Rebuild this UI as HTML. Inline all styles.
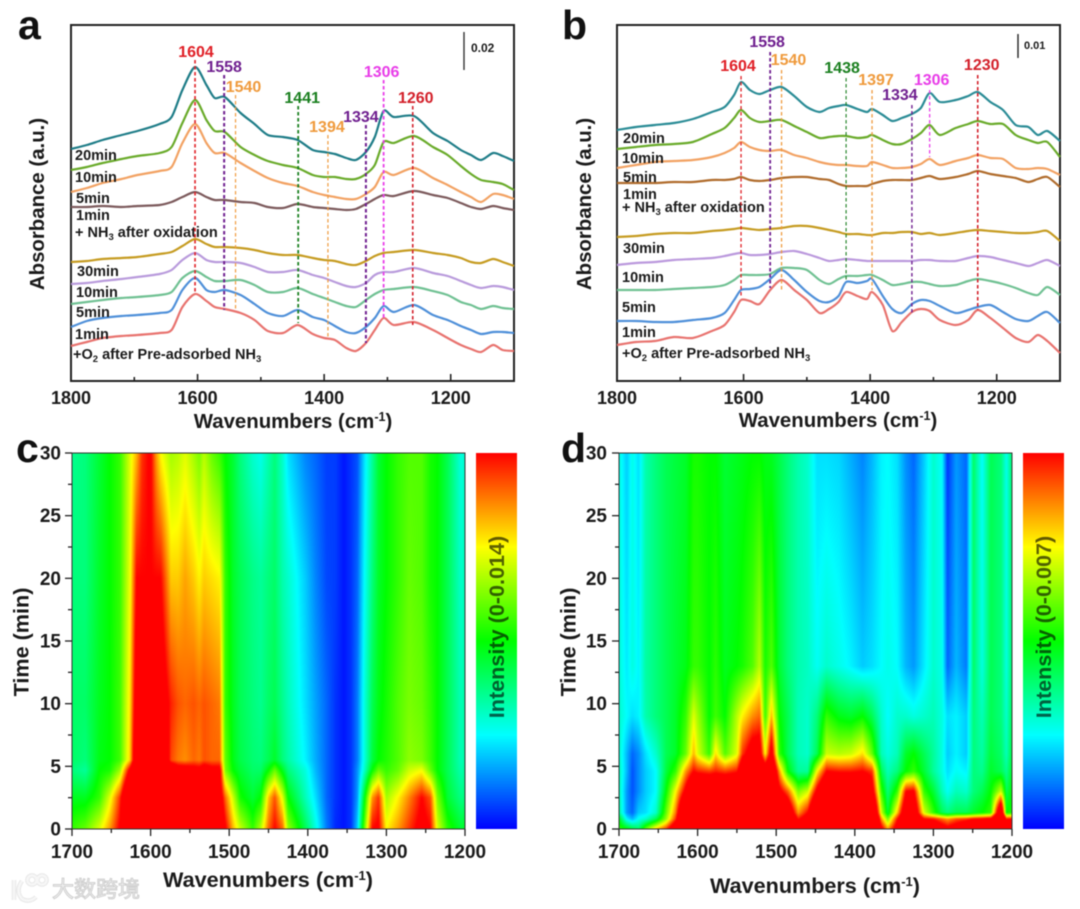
<!DOCTYPE html>
<html lang="en"><head><meta charset="utf-8"><title>FTIR spectra and time-resolved heatmaps</title>
<style>
html,body{margin:0;padding:0;background:#fff;width:1080px;height:909px;overflow:hidden}
#stage{position:relative;width:1080px;height:909px;filter:blur(0.45px)}
canvas{position:absolute;display:block}
svg{position:absolute;left:0;top:0}
text{font-family:"Liberation Sans","Noto Sans CJK SC",sans-serif;font-weight:bold;fill:#1a1a1a}
.tl{font-size:14.5px}
.tick{font-size:18px}
.tick-h{font-size:19px}
.title{font-size:20.4px}
.title-h{font-size:21.6px}
.pl{font-size:41px;fill:#111}
</style></head><body>
<div id="stage">
<canvas id="heat-c" width="393" height="376" style="left:72px;top:453px"></canvas>
<canvas id="heat-d" width="393" height="376" style="left:619px;top:453px"></canvas>
<svg id="fig" width="1080" height="909" viewBox="0 0 1080 909">
<defs>
<linearGradient id="jet" x1="0" y1="1" x2="0" y2="0">
<stop offset="0" stop-color="#0000ff"/><stop offset=".25" stop-color="#00ffff"/><stop offset=".5" stop-color="#00ff00"/><stop offset=".75" stop-color="#ffff00"/><stop offset="1" stop-color="#ff0000"/>
</linearGradient>
</defs>
<text class="pl" x="18" y="39">a</text>
<text class="pl" x="562" y="39">b</text>
<text class="pl" x="16" y="462">c</text>
<text class="pl" x="561" y="462">d</text>

<rect x="71" y="25" width="443" height="356" fill="none" stroke="#222" stroke-width="2"/>
<rect x="617" y="25" width="443" height="356" fill="none" stroke="#222" stroke-width="2"/>
<g id="a-series"></g>
<g id="b-series"></g>

<line x1="464" y1="32" x2="464" y2="70" stroke="#333" stroke-width="1.4"/>
<text x="471" y="52" style="font-size:12px">0.02</text>
<line x1="1018" y1="34" x2="1018" y2="58" stroke="#222" stroke-width="1.4"/>
<text x="1024" y="49" style="font-size:11px">0.01</text>

<g>
<text class="tl" x="75" y="160">20min</text>
<text class="tl" x="75" y="182">10min</text>
<text class="tl" x="76" y="203">5min</text>
<text class="tl" x="76" y="220">1min</text>
<text class="tl" x="75" y="237">+ NH<tspan dy="3" style="font-size:9.5px">3</tspan><tspan dy="-3"> after oxidation</tspan></text>
<text class="tl" x="77" y="276">30min</text>
<text class="tl" x="76" y="297">10min</text>
<text class="tl" x="76" y="317">5min</text>
<text class="tl" x="75" y="339">1min</text>
<text class="tl" x="73" y="359">+O<tspan dy="3" style="font-size:9.5px">2</tspan><tspan dy="-3"> after Pre-adsorbed NH</tspan><tspan dy="3" style="font-size:9.5px">3</tspan></text>
</g>
<g>
<text class="tl" x="623" y="143">20min</text>
<text class="tl" x="622" y="163">10min</text>
<text class="tl" x="623" y="182">5min</text>
<text class="tl" x="623" y="199">1min</text>
<text class="tl" x="622" y="212">+ NH<tspan dy="3" style="font-size:9.5px">3</tspan><tspan dy="-3"> after oxidation</tspan></text>
<text class="tl" x="623" y="253">30min</text>
<text class="tl" x="622" y="282">10min</text>
<text class="tl" x="622" y="312">5min</text>
<text class="tl" x="622" y="337">1min</text>
<text class="tl" x="622" y="358">+O<tspan dy="3" style="font-size:9.5px">2</tspan><tspan dy="-3"> after Pre-adsorbed NH</tspan><tspan dy="3" style="font-size:9.5px">3</tspan></text>
</g>

<text class="title" x="293" y="428" text-anchor="middle">Wavenumbers (cm<tspan dy="-7" style="font-size:12.5px">-1</tspan><tspan dy="7">)</tspan></text>
<text class="title" x="838" y="427" text-anchor="middle">Wavenumbers (cm<tspan dy="-7" style="font-size:12.5px">-1</tspan><tspan dy="7">)</tspan></text>
<text class="title" text-anchor="middle" transform="translate(44,204) rotate(-90)">Absorbance (a.u.)</text>
<text class="title" text-anchor="middle" transform="translate(591,204) rotate(-90)">Absorbance (a.u.)</text>

<rect x="72" y="453" width="393" height="376" fill="none" stroke="#333" stroke-width="1"/>
<rect x="619" y="453" width="393" height="376" fill="none" stroke="#333" stroke-width="1"/>
<rect x="476" y="453" width="41" height="376" fill="url(#jet)"/>
<rect x="1023" y="453" width="41" height="376" fill="url(#jet)"/>
<text text-anchor="middle" transform="translate(504,627) rotate(-90)" style="font-size:21.6px;fill:#000;fill-opacity:.62">Intensity (0-0.014)</text>
<text text-anchor="middle" transform="translate(1051,627) rotate(-90)" style="font-size:21.6px;fill:#000;fill-opacity:.62">Intensity (0-0.007)</text>
<text class="title-h" x="268" y="887" text-anchor="middle">Wavenumbers (cm<tspan dy="-7" style="font-size:13px">-1</tspan><tspan dy="7">)</tspan></text>
<text class="title-h" x="815" y="893" text-anchor="middle">Wavenumbers (cm<tspan dy="-7" style="font-size:13px">-1</tspan><tspan dy="7">)</tspan></text>
<text class="title-h" text-anchor="middle" transform="translate(28.5,642) rotate(-90)">Time (min)</text>
<text class="title-h" text-anchor="middle" transform="translate(575.5,642) rotate(-90)">Time (min)</text>

<g>
<g fill="none" stroke="#d2d2d2" stroke-width="4.4" opacity=".55">
<path d="M14 880 v20 M22 881 q-7 10 0 18 q8 4 14 -2"/>
<circle cx="32" cy="880" r="4.6"/><circle cx="42" cy="880" r="4.6"/>
</g>
<g fill="none" stroke="#f6f6f6" stroke-width="2.6">
<path d="M14 880 v20 M22 881 q-7 10 0 18 q8 4 14 -2"/>
<circle cx="32" cy="880" r="4.6"/><circle cx="42" cy="880" r="4.6"/>
</g>
<text x="52" y="897" style="font-size:22px;fill:#f6f6f6;stroke:#cfcfcf;stroke-width:1px;font-weight:normal">大数跨境</text>
</g>
<g id="axes"></g>
</svg>
</div>
<script>
/* ---------- Panel a: spectra (a.u., common offset scale) ---------- */
const aWavenumbers=[1800,1775,1750,1720,1695,1660,1641,1624,1604,1586,1573,1557,1532,1510,1489,1465,1442,1418,1400,1383,1365,1350,1334,1320,1306,1290,1258,1228,1205,1184,1168,1152,1133,1118,1100];
const aNh320=[232,236,241,246,250,257,264,291,314,296,283,284,268,257,246,244,241,231,229,227,223,221,229,244,270,264,265,248,240,231,226,221,228,225,220];
const aNh310=[211,214,218,222,225,228,234,258,281,261,250,249,234,226,220,216,213,206,204,204,202,202,207,216,239,238,245,234,226,215,207,201,199,197,191];
const aNh35=[189,193,198,202,206,210,214,238,257,238,228,228,218,210,203,198,195,189,186,184,182,182,187,194,209,206,213,203,196,189,184,179,187,186,182];
const aNh31=[174,174,175,174,175,176,179,184,189,184,181,181,179,178,174,173,177,174,173,172,171,172,177,182,186,185,190,186,183,178,174,172,175,173,171];
const aO230=[119,120,122,123,124,127,129,135,142,137,134,134,133,131,128,126,126,123,121,120,117,116,120,125,128,129,131,128,126,123,119,118,122,119,115];
const aO210=[97,98,100,102,104,107,111,121,128,121,119,119,118,114,109,109,111,106,103,99,95,94,98,106,109,109,113,108,105,100,96,93,95,94,91];
const aO25=[77,79,81,83,84,86,89,103,110,104,100,100,101,96,89,89,93,87,83,79,75,74,81,87,91,92,94,90,86,79,76,72,75,73,72];
const aO21=[54,60,63,65,66,68,71,91,103,91,89,91,86,77,68,65,71,64,61,55,49,48,54,63,75,69,76,66,61,55,51,47,49,49,48];
const aO2Base=[35,39,43,45,46,48,51,74,87,80,74,72,68,61,50,48,56,47,43,41,33,30,38,51,63,56,59,51,43,36,32,29,36,31,30];
const aPeaks=[1604,1558,1540,1441,1394,1334,1306,1260];
const aPeakTops=[321,306,286,275,246,256,301,275];
const aPeakBottoms=[88,71,71,58,43,38,61,56];

/* ---------- Panel b: spectra ---------- */
const bWavenumbers=[1800,1770,1740,1710,1680,1650,1630,1615,1604,1590,1575,1558,1540,1520,1500,1480,1465,1450,1438,1420,1405,1397,1380,1365,1350,1334,1320,1306,1290,1265,1245,1230,1210,1190,1170,1150,1135,1120,1100];
const bNh320=[251,254,256,258,262,269,274,286,299,291,287,291,294,285,274,269,273,275,276,272,269,272,266,260,263,267,273,288,279,281,285,289,279,271,256,254,246,250,240];
const bNh310=[232,234,236,237,239,247,253,263,271,263,259,260,261,255,249,243,244,245,245,243,244,246,241,237,237,242,248,256,246,253,257,260,257,257,246,241,238,239,224];
const bNh35=[213,216,219,220,221,224,228,233,239,234,231,230,231,226,223,219,217,216,216,215,215,219,216,213,213,214,217,222,216,220,223,226,223,222,213,212,213,212,206];
const bNh31=[198,198,198,199,199,201,201,202,204,201,200,201,203,204,204,202,201,197,195,195,195,197,200,201,201,201,203,205,202,204,207,210,207,205,203,199,202,204,194];
const bO230=[144,145,147,148,148,150,151,152,153,152,151,152,153,155,155,153,151,149,147,147,146,146,148,148,149,149,147,148,146,148,150,151,150,149,148,148,149,150,140];
const bO210=[116,118,119,121,122,123,125,127,128,126,126,127,129,130,127,123,120,121,122,121,120,120,120,120,120,120,121,121,120,120,123,125,124,121,118,115,118,121,115];
const bO25=[91,91,91,92,93,94,96,101,106,106,106,107,113,113,111,101,97,102,105,105,106,106,101,96,97,99,99,97,95,96,100,102,100,97,93,88,86,94,86];
const bO21=[60,60,59,59,61,63,68,81,91,92,94,102,111,101,89,80,79,85,99,98,100,102,85,72,68,77,81,80,75,68,71,74,76,69,62,60,65,69,58];
const bO2Base=[36,39,40,44,43,50,56,69,81,80,77,91,101,91,81,68,72,79,89,85,82,89,76,50,59,69,72,70,61,56,61,71,63,53,43,39,46,40,28];
const bPeaks=[1604,1558,1540,1438,1397,1334,1306,1230];
const bPeakTops=[305,329,311,303,291,276,291,306];
const bPeakBottoms=[83,93,91,99,91,68,224,71];

const spectraXTicks=[1800,1700,1600,1500,1400,1300,1200,1100];
const spectraXTickLabels=['1800','','1600','','1400','','1200',''];

/* ---------- Panel c: heatmap, normalised intensity (values above 1 saturate red) ---------- */
const cWavenumbers=[1700,1683,1665,1652,1639,1626,1618,1611,1600,1593,1587,1574,1565,1556,1545,1538,1532,1522,1512,1505,1495,1486,1470,1460,1450,1442,1432,1425,1403,1390,1376,1365,1354,1345,1337,1328,1318,1310,1300,1285,1271,1255,1244,1235,1222,1205,1200];
const cTimes=[0,2.5,4.7,5.5,10,20,30];
const cT0=[.55,.6,.72,.85,1.02,1.5,1.5,1.5,1.5,1.5,1.5,1.5,1.5,1.5,1.5,1.5,1.5,1.5,1.2,1.02,.82,.7,.55,.68,.9,1,.9,.65,.42,.28,.12,.04,.02,.05,.2,.6,1,1.02,.76,.85,.95,1.05,1.0,.72,.54,.45,.47];
const cT2=[.47,.47,.55,.72,.95,1.4,1.5,1.5,1.5,1.5,1.5,1.5,1.5,1.5,1.5,1.5,1.5,1.3,1.1,.9,.7,.52,.45,.5,.8,.92,.72,.5,.32,.22,.1,.05,.02,.05,.15,.48,.85,.95,.66,.76,.87,1,.92,.62,.45,.37,.38];
const cT4=[.38,.35,.5,.52,.65,1.05,1.4,1.5,1.5,1.5,1.5,1.2,1.1,1.1,1.06,1.05,1.1,1.05,1.05,.62,.5,.45,.4,.4,.5,.6,.47,.38,.28,.18,.1,.05,.02,.05,.14,.3,.5,.6,.55,.6,.7,.74,.6,.5,.42,.33,.35];
const cT5=[.4,.38,.48,.5,.56,.8,1.2,1.3,1.3,1.3,1.3,.93,.88,.86,.9,.88,.92,.9,.9,.6,.48,.43,.39,.38,.42,.46,.38,.34,.24,.17,.1,.05,.02,.05,.12,.28,.44,.5,.53,.58,.64,.62,.56,.5,.42,.32,.34];
const cT10=[.4,.4,.47,.5,.56,.78,1.1,1.2,1.2,1.2,1.1,.97,.92,.9,.92,.9,.92,.9,.88,.55,.47,.42,.38,.36,.4,.42,.36,.32,.22,.16,.1,.05,.02,.05,.12,.28,.42,.48,.52,.58,.62,.6,.55,.5,.42,.32,.34];
const cT20=[.38,.38,.46,.5,.55,.74,1,1,1,1,1,.8,.8,.84,.8,.76,.8,.78,.76,.55,.46,.42,.37,.35,.38,.4,.33,.3,.2,.13,.07,.06,.02,.05,.1,.25,.38,.46,.5,.55,.6,.58,.52,.5,.42,.3,.32];
const cT30=[.36,.38,.45,.5,.55,.72,.82,.95,1.02,.85,.75,.66,.68,.72,.66,.62,.68,.6,.55,.5,.45,.38,.3,.27,.33,.38,.3,.22,.13,.1,.06,.06,.02,.05,.08,.22,.35,.45,.5,.55,.58,.58,.52,.5,.42,.28,.3];

/* ---------- Panel d: heatmap ---------- */
const dWavenumbers=[1700,1690,1683,1675,1666,1653,1640,1628,1615,1605,1600,1585,1577,1565,1550,1543,1530,1521,1514,1506,1496,1485,1472,1460,1448,1436,1420,1405,1390,1378,1366,1358,1346,1335,1325,1312,1300,1289,1282,1271,1258,1249,1238,1227,1214,1207,1200];
const dTimes=[0,0.8,1.3,3,4.6,6,9,13,30];
const dT0=[.55,.5,.45,.4,.6,.8,.95,1.2,1.5,1.5,1.5,1.5,1.5,1.5,1.5,1.5,1.5,1.5,1.5,1.5,1.5,1.5,1.5,1.5,1.5,1.5,1.5,1.5,1.5,1.5,1.05,.85,1.1,1.5,1.5,1.3,1.2,1.1,1.05,1.1,1.2,1.3,1.4,1.4,1.5,1.3,1.3];
const dT1=[.48,.24,.18,.26,.3,.42,.65,.95,1.5,1.5,1.5,1.5,1.5,1.5,1.5,1.5,1.5,1.5,1.5,1.5,1.5,1.3,.98,1.1,1.5,1.5,1.5,1.5,1.5,1.5,.85,.62,.98,1.3,1.3,1.0,.98,.9,.85,.92,.95,1,1.02,1.05,1.5,.98,1];
const dT13b=[.35,.15,.1,.2,.22,.3,.6,.88,1.4,1.5,1.5,1.5,1.5,1.5,1.5,1.5,1.5,1.5,1.5,1.5,1.4,1.2,.85,1.0,1.4,1.5,1.5,1.5,1.5,1.4,.7,.45,.8,1.2,1.2,.72,.55,.42,.38,.42,.42,.46,.5,.55,1.3,.5,.52];
const dT3=[.32,.15,.08,.14,.2,.25,.5,.75,1.05,1.3,1.3,1.3,1.3,1.3,1.3,1.3,1.4,1.4,1.4,1.4,1.05,.9,.62,.7,1.05,1.3,1.3,1.3,1.3,1.1,.55,.38,.55,1.0,1.02,.55,.45,.32,.26,.32,.3,.38,.42,.5,.7,.42,.5];
const dT4=[.32,.18,.08,.14,.2,.25,.44,.55,.85,1.0,.97,.94,.97,.94,.98,1.2,1.3,1.3,1.2,1.3,.85,.5,.35,.35,.75,1.0,.98,.98,1.0,.95,.42,.32,.38,.5,.55,.45,.35,.28,.22,.26,.24,.38,.36,.46,.42,.36,.46];
const dT6=[.3,.18,.1,.14,.22,.3,.42,.46,.6,.82,.72,.55,.78,.58,.72,.95,1.1,1.1,.75,1.1,.55,.42,.32,.3,.42,.7,.68,.7,.78,.6,.32,.28,.32,.46,.5,.42,.35,.28,.2,.24,.2,.38,.34,.44,.4,.32,.44];
const dT9=[.3,.25,.22,.24,.33,.38,.42,.46,.55,.72,.66,.5,.56,.5,.68,.76,.86,.9,.55,.82,.5,.42,.32,.3,.38,.55,.48,.46,.5,.42,.3,.25,.3,.3,.28,.3,.32,.28,.22,.24,.2,.38,.32,.42,.38,.3,.42];
const dT13=[.29,.23,.28,.24,.34,.38,.42,.45,.48,.55,.55,.5,.54,.47,.5,.52,.58,.68,.52,.58,.45,.38,.33,.31,.26,.3,.27,.24,.2,.22,.25,.27,.25,.18,.15,.23,.3,.27,.1,.18,.12,.4,.28,.42,.38,.28,.4];
const dT30=[.28,.2,.27,.22,.33,.38,.42,.44,.46,.52,.52,.5,.5,.45,.47,.48,.5,.5,.48,.47,.43,.38,.33,.3,.22,.22,.21,.17,.13,.18,.24,.25,.22,.14,.1,.2,.3,.25,.05,.15,.1,.4,.25,.42,.38,.27,.4];

const heatXTicks=[1700,1650,1600,1550,1500,1450,1400,1350,1300,1250,1200];
const heatXTickLabels=['1700','','1600','','1500','','1400','','1300','','1200'];
const heatYTicks=[0,2.5,5,7.5,10,12.5,15,17.5,20,22.5,25,27.5,30];
const heatYTickLabels=['0','','5','','10','','15','','20','','25','','30'];

const colorStopValues=[0,.25,.5,.75,1];
const colorStopRGB=[[0,0,255],[0,255,255],[0,255,0],[255,255,0],[255,0,0]];

const NS='http://www.w3.org/2000/svg';
const fig=document.getElementById('fig');
const axesG=document.getElementById('axes');
function mk(tag,attrs,parent){const e=document.createElementNS(NS,tag);for(const k in attrs)e.setAttribute(k,attrs[k]);(parent||fig).appendChild(e);return e;}
function linear(d0,d1,r0,r1){return v=>r0+(v-d0)/(d1-d0)*(r1-r0);}

/* Smooth path through the points, Catmull-Rom style */
function smoothPath(xs,ys){
  let d='M'+xs[0].toFixed(1)+' '+ys[0].toFixed(1);
  const t=0.14;
  for(let i=0;i<xs.length-1;i++){
    const p0=Math.max(i-1,0),p2=i+1,p3=Math.min(i+2,xs.length-1);
    const c1x=xs[i]+(xs[p2]-xs[p0])*t,c1y=ys[i]+(ys[p2]-ys[p0])*t;
    const c2x=xs[p2]-(xs[p3]-xs[i])*t,c2y=ys[p2]-(ys[p3]-ys[i])*t;
    d+='C'+c1x.toFixed(1)+' '+c1y.toFixed(1)+' '+c2x.toFixed(1)+' '+c2y.toFixed(1)+' '+xs[p2].toFixed(1)+' '+ys[p2].toFixed(1);
  }
  return d;
}

function drawSpectra(panel,wn,seriesList,colors,x,y){
  const group=document.getElementById(panel+'-series');
  const px=wn.map(x);
  seriesList.forEach((vals,i)=>{
    const line=mk('path',{d:smoothPath(px,vals.map(y)),fill:'none',stroke:colors[i],'stroke-width':2.2,'stroke-linejoin':'round'},group);
    
    
  });
}

function drawPeaks(panel,peaks,tops,bottoms,colors,widths,dx,labelLift,x,y){
  peaks.forEach((p,i)=>{
    const ln=mk('line',{x1:x(p),x2:x(p),y1:y(tops[i]),y2:y(bottoms[i]),stroke:colors[i],'stroke-width':widths[i],'stroke-dasharray':'3.5 2.5'});
    
    
    const tx=mk('text',{x:x(p)+dx[i],y:y(tops[i])-labelLift,'text-anchor':'middle',style:'font-size:16px;fill:'+colors[i]});
    tx.textContent=String(p);
    
    
  });
}

function spectraXAxis(panel,x,bottom,labelY){
  spectraXTicks.forEach((t,i)=>{
    const major=spectraXTickLabels[i]!=='';
    const tk=mk('line',{x1:x(t),x2:x(t),y1:bottom,y2:bottom-(major?7:4),stroke:'#222','stroke-width':1.6},axesG);
    
    
    if(major){
      const lb=mk('text',{x:x(t),y:labelY,'text-anchor':'middle',class:'tick'},axesG);
      lb.textContent=spectraXTickLabels[i];
      
      
    }
  });
}

function heatAxes(panel,x,y,bottom,left,labelRight){
  heatXTicks.forEach((t,i)=>{
    const major=heatXTickLabels[i]!=='';
    const tk=mk('line',{x1:x(t),x2:x(t),y1:bottom,y2:bottom+(major?7:4),stroke:'#222','stroke-width':1.3},axesG);
    
    
    if(major){
      const lb=mk('text',{x:x(t),y:bottom+29,'text-anchor':'middle',class:'tick-h'},axesG);
      lb.textContent=heatXTickLabels[i];
      
      
    }
  });
  heatYTicks.forEach((t,i)=>{
    const major=heatYTickLabels[i]!=='';
    const tk=mk('line',{x1:left,x2:left-(major?7:4),y1:y(t),y2:y(t),stroke:'#222','stroke-width':1.3},axesG);
    
    
    if(major){
      const lb=mk('text',{x:labelRight,y:y(t)+6.5,'text-anchor':'end',class:'tick-h'},axesG);
      lb.textContent=heatYTickLabels[i];
      
      
    }
  });
}

function colorFor(v){
  const c=Math.max(0,Math.min(1,v));
  let i=0;
  while(i<colorStopValues.length-2&&c>colorStopValues[i+1])i++;
  const f=(c-colorStopValues[i])/(colorStopValues[i+1]-colorStopValues[i]);
  return colorStopRGB[i].map((s,k)=>s+(colorStopRGB[i+1][k]-s)*f);
}
function locate(arr,v){ /* arr may ascend or descend */
  const asc=arr[1]>arr[0];
  let i=0;
  while(i<arr.length-2&&(asc?v>arr[i+1]:v<arr[i+1]))i++;
  return [i,(v-arr[i])/(arr[i+1]-arr[i])];
}
function drawHeat(id,wn,times,rows,xInv,yInv){
  const cv=document.getElementById(id),ctx=cv.getContext('2d');
  const W=cv.width,H=cv.height,img=ctx.createImageData(W,H);
  for(let py=0;py<H;py++){
    const [ti,tf]=locate(times,yInv(py+.5));
    for(let px=0;px<W;px++){
      const [wi,wf]=locate(wn,xInv(px+.5));
      const a=rows[ti][wi]*(1-wf)+rows[ti][wi+1]*wf;
      const b=rows[ti+1][wi]*(1-wf)+rows[ti+1][wi+1]*wf;
      const c=colorFor(a*(1-tf)+b*tf);
      const o=(py*W+px)*4;
      img.data[o]=c[0];img.data[o+1]=c[1];img.data[o+2]=c[2];img.data[o+3]=255;
    }
  }
  ctx.putImageData(img,0,0);
}

/* Panel a */
const xA=linear(1800,1100,71,514),yA=linear(0,356,381,25);
drawSpectra('a',aWavenumbers,[aNh320,aNh310,aNh35,aNh31,aO230,aO210,aO25,aO21,aO2Base],['#1f7d88','#6aab2b','#f2a263','#7c5a5c','#c69c22','#b99bdc','#70c193','#4f90d9','#e8736f'],xA,yA);
drawPeaks('a',aPeaks,aPeakTops,aPeakBottoms,['#e01f26','#6f1f8f','#ef9a3c','#1a7f1f','#ef9a3c','#6f1f8f','#e83ce8','#d3202a'],[1.6,2,1.2,1.8,1.2,2,1.8,1.6],[1,0,8,4,-1,-5,-2,3],3,xA,yA);
spectraXAxis('a',xA,381,404);

/* Panel b */
const xB=linear(1800,1100,617,1060),yB=linear(0,356,381,25);
drawSpectra('b',bWavenumbers,[bNh320,bNh310,bNh35,bNh31,bO230,bO210,bO25,bO21,bO2Base],['#2b8c96','#6aab2b','#f2a263','#b06c2c','#c69c22','#bb99dd','#70c193','#4f90d9','#e8736f'],xB,yB);
drawPeaks('b',bPeaks,bPeakTops,bPeakBottoms,['#e01f26','#6f1f8f','#ef9a3c','#1a7f1f','#ef9a3c','#6f1f8f','#e83ce8','#d3202a'],[1.3,1.8,1.3,1.1,1.3,1.4,1.3,1.6],[-3,-3,7,-4,4,-12,2,4],5,xB,yB);
spectraXAxis('b',xB,381,404);

/* Panel c */
const xC=linear(1700,1200,72,465),yC=linear(0,30,829,453);
const xCInv=linear(0,393,1700,1200),yCInv=linear(0,376,30,0);
drawHeat('heat-c',cWavenumbers,cTimes,[cT0,cT2,cT4,cT5,cT10,cT20,cT30],xCInv,yCInv);
heatAxes('c',xC,yC,829,72,61);

/* Panel d */
const xD=linear(1700,1200,619,1012),yD=linear(0,30,829,453);
drawHeat('heat-d',dWavenumbers,dTimes,[dT0,dT1,dT13b,dT3,dT4,dT6,dT9,dT13,dT30],xCInv,yCInv);
heatAxes('d',xD,yD,829,619,607);
</script>
</body></html>
